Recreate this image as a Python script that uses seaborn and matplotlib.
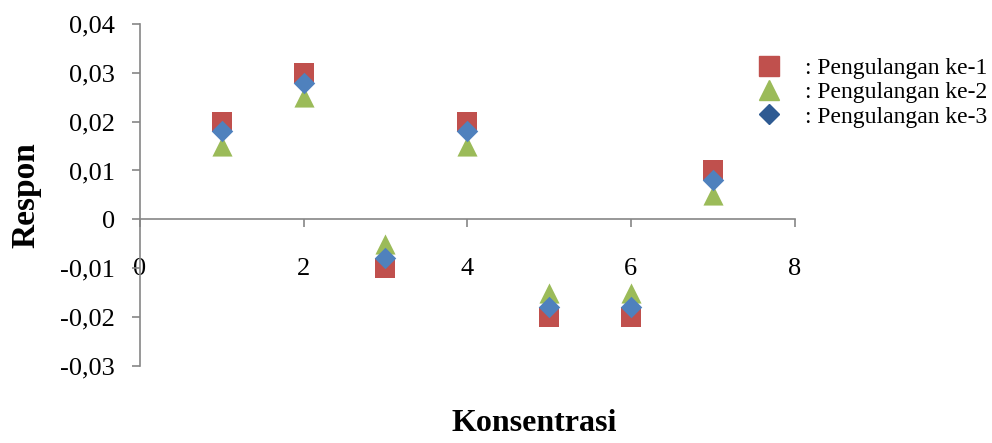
import pandas as pd
import matplotlib
matplotlib.use("Agg")
import matplotlib.pyplot as plt
from matplotlib.lines import Line2D
import seaborn as sns

# data
konsentrasi = [1, 2, 3, 4, 5, 6, 7]
ulangan_1 = [0.020, 0.030, -0.010, 0.020, -0.020, -0.020, 0.010]
ulangan_2 = [0.015, 0.025, -0.005, 0.015, -0.015, -0.015, 0.005]
ulangan_3 = [0.018, 0.028, -0.008, 0.018, -0.018, -0.018, 0.008]
series_names = [": Pengulangan ke-1", ": Pengulangan ke-2", ": Pengulangan ke-3"]
y_ticks = [-0.03, -0.02, -0.01, 0, 0.01, 0.02, 0.03, 0.04]
y_ticklabels = ["-0,03", "-0,02", "-0,01", "0", "0,01", "0,02", "0,03", "0,04"]
x_ticks = [0, 2, 4, 6, 8]

sns.set_style("white")
plt.rcParams['font.family'] = ['Liberation Serif', 'DejaVu Serif']
plt.rcParams['text.color'] = 'black'

rows = []
for name, vals in zip(series_names, [ulangan_1, ulangan_2, ulangan_3]):
	for x, y in zip(konsentrasi, vals):
		rows.append({"Konsentrasi": x, "Respon": y, "seri": name})
data = pd.DataFrame(rows)

colors = {series_names[0]: "#C0504D", series_names[1]: "#9BBB59", series_names[2]: "#4F81BD"}
markers = {series_names[0]: "s", series_names[1]: "^", series_names[2]: "D"}
sizes = {series_names[0]: 190, series_names[1]: 210, series_names[2]: 120}

fig = plt.figure(figsize=(9.92, 4.43), dpi=100)
ax = fig.add_axes([0.141, 0.174, 0.66, 0.772])

for name in series_names:
	sub = data[data["seri"] == name]
	sns.scatterplot(x="Konsentrasi", y="Respon", data=sub, ax=ax, color=colors[name],
		marker=markers[name], s=sizes[name], linewidth=0, legend=False)

ax.set_xlim(0, 8)
ax.set_ylim(-0.03, 0.04)
ax.set_xticks(x_ticks)
ax.set_xticklabels([str(v) for v in x_ticks])
ax.set_yticks(y_ticks)
ax.set_yticklabels(y_ticklabels)

axis_gray = "#868686"
for side in ["top", "right"]:
	ax.spines[side].set_visible(False)
ax.spines["bottom"].set_position(("data", 0))
ax.spines["left"].set_position(("data", 0))
for side in ["bottom", "left"]:
	ax.spines[side].set_color(axis_gray)
	ax.spines[side].set_linewidth(1.2)
ax.tick_params(axis="both", direction="out", length=6, width=1.2, color=axis_gray,
	labelsize=19, labelcolor="black", bottom=True, left=True)
ax.tick_params(axis="x", pad=22)
ax.tick_params(axis="y", pad=12)

ax.set_xlabel("")
ax.set_ylabel("")
fig.text(0.026, 0.56, "Respon", rotation=90, ha="center", va="center",
	fontsize=24, fontweight="bold", color="black")
fig.text(0.539, 0.045, "Konsentrasi", ha="center", va="center",
	fontsize=23, fontweight="bold", color="black")

handles = [Line2D([], [], linestyle="", marker=markers[n], color=colors[n],
	markersize=14 if markers[n] != "D" else 10) for n in series_names]
handles[2].set_color("#2E5A92")
leg = ax.legend(handles, series_names, loc="upper left", bbox_to_anchor=(0.922, 0.93),
	frameon=False, fontsize=17, handlelength=1.4, handletextpad=0.8,
	labelspacing=0.12, borderaxespad=0, labelcolor="black")

plt.savefig("out.png", dpi=100)
